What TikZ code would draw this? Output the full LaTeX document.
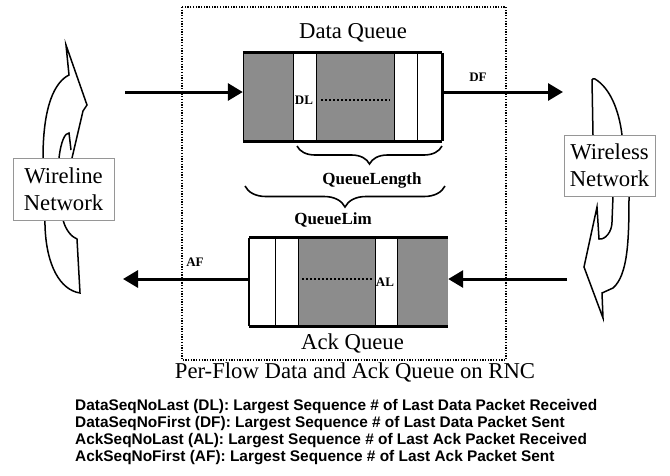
\documentclass[tikz,border=0pt]{standalone}
\usepackage{fontspec}
\setmainfont{Liberation Serif}
\newfontfamily\legendfont{Liberation Sans}
\usetikzlibrary{arrows.meta,decorations.pathreplacing}
\definecolor{qgray}{RGB}{140,140,140}
\definecolor{netedge}{RGB}{150,150,150}
\begin{document}
\begin{tikzpicture}[x=1pt,y=-1pt,
  shaded/.style={fill=qgray,draw=none},
  divider/.style={draw=black,line width=0.9pt},
  rim/.style={draw=black,line width=2.7pt},
  flow/.style={line width=3pt,-{Triangle[length=15pt,width=17pt]}},
  title/.style={font=\fontsize{22.7}{27}\selectfont},
  tag/.style={font=\bfseries\fontsize{13}{15}\selectfont,inner sep=0pt},
  measure/.style={font=\bfseries\fontsize{17}{20}\selectfont,inner sep=0pt},
  qbox/.style={draw=none,minimum width=199pt,minimum height=88pt,inner sep=0pt},
  netbox/.style={draw=netedge,fill=white,line width=0.7pt,align=center,
    font=\fontsize{22.7}{27}\selectfont,inner sep=0pt},
  ribbon/.style={draw=black,fill=white,line width=1.5pt,line join=miter},
  bracket/.style={draw=black,line width=1.6pt,decorate},
  legend/.style={font=\legendfont\bfseries\fontsize{15.4}{17}\selectfont,anchor=west,inner sep=0pt},
  frame/.style={draw=black,line width=1.3pt,dash pattern=on 1.3pt off 1.4pt}
]
\useasboundingbox (0,0) rectangle (670,475);

% dotted RNC frame
\draw[frame] (182,7) rectangle (506,360);

% ---- network ribbons ----
% wireline side (points up)
\draw[ribbon] (80,293) .. controls (60,290) and (46,265) .. (45,225)
  -- (43,158) .. controls (43,105) and (55,82) .. (69,75)
  -- (66,45) -- (87,105) -- (83,111) -- (72,158) -- (63,220)
  .. controls (66,231) and (72,237) .. (77,239) -- (80,293) -- cycle;
\draw[black,line width=1.5pt] (59,158) .. controls (61,141) and (65,133) .. (69,133) -- (71,150);
% wireless side (points down)
\draw[ribbon] (593,135) -- (592,80) .. controls (592,78) and (594,79) .. (595,79)
  .. controls (610,88) and (619,110) .. (622,135) -- (629,196)
  .. controls (629,240) and (628,275) .. (613,288) -- (602,293) -- (603,318)
  -- (584,267) -- (597,207) -- (599,239)
  .. controls (605,240) and (612,232) .. (612,222) -- (613,196) -- cycle;

\node[netbox,minimum width=101pt,minimum height=62pt] (wired) at (63.5,189) {Wireline\\Network};
\node[netbox,minimum width=91pt,minimum height=61pt] (wless) at (609.5,165.5) {Wireless\\Network};

% ---- data queue ----
\node[qbox] (dq) at (342.5,97) {};
\fill[qgray] (243,53) rectangle (293,141);
\fill[qgray] (316,53) rectangle (394,141);
\foreach \x in {293,316,394,417} \draw[divider] (\x,53) -- (\x,141);
\draw[divider] (243,53) -- (243,141);
\draw[rim] (dq.north west) -- (dq.north east);
\draw[rim] (dq.south west) -- (dq.south east);
\draw[rim] (dq.north east) -- (dq.south east);
\draw[black,line width=2pt,dash pattern=on 2pt off 2pt] (321,100) -- (390,100);
\node[tag] (dl) at (304,100) {DL};
\node[title] (dqt) at (353,33) {Data Queue};

% ---- ack queue ----
\node[qbox] (aq) at (348.5,282) {};
\fill[qgray] (298,238) rectangle (375,326);
\fill[qgray] (397,238) rectangle (448,326);
\foreach \x in {275,298,375,397} \draw[divider] (\x,238) -- (\x,326);
\draw[rim] (aq.north west) -- (aq.north east);
\draw[rim] (aq.south west) -- (aq.south east);
\draw[black,line width=1.6pt] (aq.north west) -- (aq.south west);
\draw[black,line width=2pt,dash pattern=on 2pt off 2pt] (302,279) -- (372,279);
\node[tag] (al) at (385,282) {AL};
\node[title] (aqt) at (352.5,343) {Ack Queue};

% ---- flows ----
\coordinate (inData) at (125,92);
\coordinate (outData) at (563,92);
\coordinate (inAck) at (567,279);
\coordinate (outAck) at (123,279);
\draw[flow] (inData) -- (inData -| dq.west);
\draw[flow] (outData -| dq.east) -- (outData);
\draw[flow] (inAck) -- (inAck -| aq.east);
\draw[flow] (outAck -| aq.west) -- (outAck);
\node[tag] (df) at (478,77) {DF};
\node[tag] (af) at (195,262) {AF};

% ---- braces ----
\draw[bracket,decoration={brace,amplitude=18pt}] (442,146) -- (297,146);
\node[measure] (qlen) at (372,180) {QueueLength};
\draw[bracket,decoration={brace,amplitude=21pt}] (445,186) -- (245,186);
\node[measure] (qlim) at (333,220) {QueueLim};

% caption
\node[title] (cap) at (355,372) {Per-Flow Data and Ack Queue on RNC};

% legend
\node[legend] (l1) at (75,407) {DataSeqNoLast (DL): Largest Sequence \# of Last Data Packet Received};
\node[legend] (l2) at (75,424) {DataSeqNoFirst (DF): Largest Sequence \# of Last Data Packet Sent};
\node[legend] (l3) at (75,441) {AckSeqNoLast (AL): Largest Sequence \# of Last Ack Packet Received};
\node[legend] (l4) at (75,458) {AckSeqNoFirst (AF): Largest Sequence \# of Last Ack Packet Sent};
\end{tikzpicture}
\end{document}
